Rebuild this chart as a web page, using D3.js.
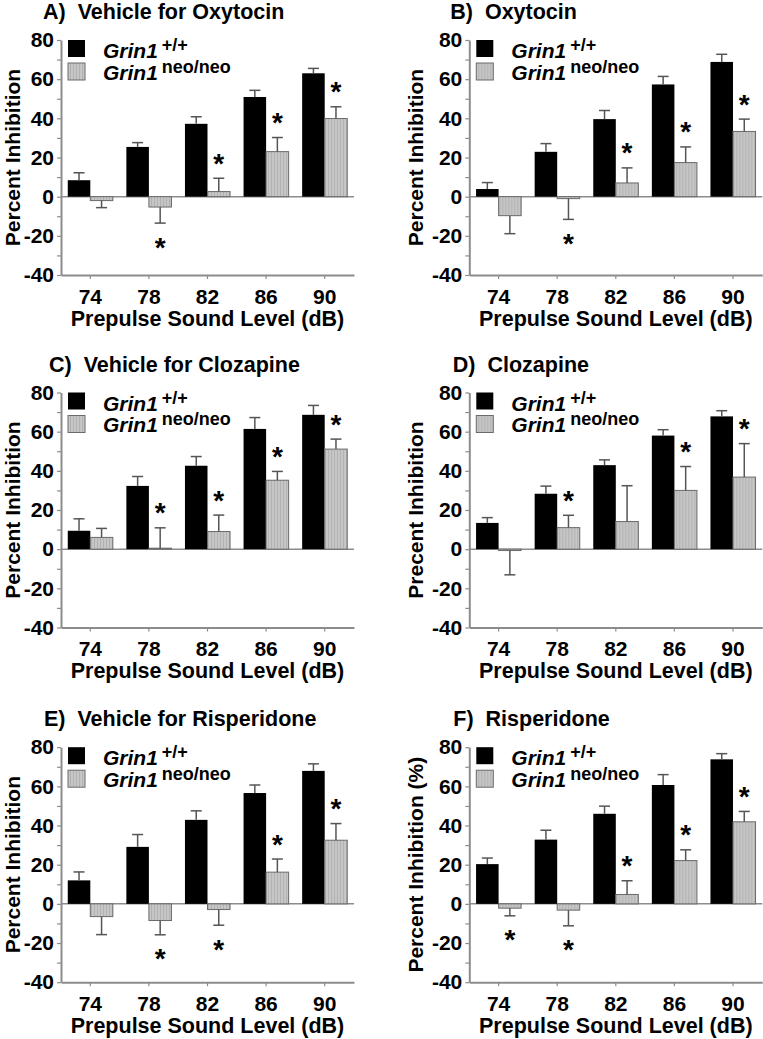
<!DOCTYPE html>
<html><head><meta charset="utf-8">
<script src="https://cdn.jsdelivr.net/npm/d3@7"></script>
<style>
body{margin:0;background:#fff}
text{font-family:"Liberation Sans",Arial,Helvetica,sans-serif;font-weight:bold;fill:#000}
</style>
</head><body><svg id="chart" width="763" height="1039"></svg>
<script>
// ---------- data ----------
const categories = ["74", "78", "82", "86", "90"];
const yTickValues = [-40, -20, 0, 20, 40, 60, 80];
const panelTitles = ["A)  Vehicle for Oxytocin", "B)  Oxytocin", "C)  Vehicle for Clozapine",
                     "D)  Clozapine", "E)  Vehicle for Risperidone", "F)  Risperidone"];
const yLabels = ["Percent Inhibition", "Percent Inhibition", "Percent Inhibition",
                 "Precent Inhibition", "Percent Inhibition", "Percent Inhibition (%)"];
const xLabel = "Prepulse Sound Level (dB)";
const seriesNames = ["Grin1", "Grin1"];
const seriesSups = ["+/+", "neo/neo"];

const wtA = [8.4, 25.4, 37.2, 50.9, 63.0],  wtErrA = [3.8, 2.2, 3.6, 3.4, 2.5];
const neoA = [-2.0, -5.3, 2.6, 23.0, 39.9], neoErrA = [3.6, 8.2, 6.8, 7.2, 6.0];
const starA = [0, 1, 1, 1, 1];

const wtB = [3.9, 22.9, 39.6, 57.3, 68.8],  wtErrB = [3.3, 4.2, 4.4, 4.1, 3.9];
const neoB = [-9.7, -1.0, 7.0, 17.4, 33.3], neoErrB = [9.2, 10.6, 7.7, 8.0, 6.3];
const starB = [0, 1, 1, 1, 1];

const wtC = [9.4, 32.3, 42.6, 61.4, 68.6],  wtErrC = [6.1, 4.8, 4.7, 5.8, 4.8];
const neoC = [6.0, 0.5, 9.0, 35.2, 51.1],   neoErrC = [4.6, 10.4, 8.4, 4.5, 5.1];
const starC = [0, 1, 1, 1, 1];

const wtD = [13.4, 28.3, 42.9, 58.0, 67.8], wtErrD = [2.7, 3.9, 2.7, 3.0, 2.9];
const neoD = [-0.7, 11.0, 14.1, 30.0, 36.8], neoErrD = [12.4, 6.3, 18.3, 12.2, 17.1];
const starD = [0, 1, 0, 1, 1];

const wtE = [12.0, 29.1, 42.9, 56.6, 67.9], wtErrE = [4.3, 6.3, 4.6, 4.1, 3.6];
const neoE = [-6.5, -8.5, -2.9, 16.2, 32.5], neoErrE = [9.2, 7.3, 8.0, 6.7, 8.5];
const starE = [0, 1, 1, 1, 1];

const wtF = [20.3, 32.8, 46.0, 60.7, 73.8], wtErrF = [3.1, 4.8, 3.9, 5.3, 2.9];
const neoF = [-2.2, -3.2, 4.8, 22.1, 41.9], neoErrF = [3.9, 8.0, 7.0, 5.5, 5.3];
const starF = [1, 1, 1, 1, 1];

const panels = [
  {wt: wtA, wtErr: wtErrA, neo: neoA, neoErr: neoErrA, star: starA},
  {wt: wtB, wtErr: wtErrB, neo: neoB, neoErr: neoErrB, star: starB},
  {wt: wtC, wtErr: wtErrC, neo: neoC, neoErr: neoErrC, star: starC},
  {wt: wtD, wtErr: wtErrD, neo: neoD, neoErr: neoErrD, star: starD},
  {wt: wtE, wtErr: wtErrE, neo: neoE, neoErr: neoErrE, star: starE},
  {wt: wtF, wtErr: wtErrF, neo: neoF, neoErr: neoErrF, star: starF}
];

// ---------- layout ----------
const colX = [61, 469.3];
const rowTop = [40, 392.5, 747.2];
const plotW = 293, plotH = 235;
const titleDx = [-18, -19, -12, -16.5, -17, -16];
const yLabelDx = [-41, -46];
const axisColor = "#8c8c8c";

const svg = d3.select("#chart");
const defs = svg.append("defs");
const pat = defs.append("pattern").attr("id", "hatch").attr("patternUnits", "userSpaceOnUse")
  .attr("width", 3).attr("height", 3);
pat.append("rect").attr("width", 3).attr("height", 3).attr("fill", "#c6c6c6");
pat.append("rect").attr("width", 1).attr("height", 3).attr("fill", "#b2b2b2");

const x = d3.scaleBand().domain(categories).range([0, plotW]).padding(0);
const xs = d3.scaleBand().domain(["wt", "neo"]).range([0, x.bandwidth()]).paddingInner(0).paddingOuter(0.3);
const y = d3.scaleLinear().domain([-40, 80]).range([plotH, 0]);

panels.forEach((p, i) => {
  const col = i % 2, row = Math.floor(i / 2);
  const g = svg.append("g").attr("transform", `translate(${colX[col]},${rowTop[row]})`);

  // title
  g.append("text").attr("x", titleDx[i]).attr("y", -21)
    .style("font-size", "21.5px").attr("xml:space", "preserve").text(panelTitles[i]);

  // y axis
  const ya = g.append("g").call(d3.axisLeft(y).tickValues(d3.range(-40, 81, 10))
      .tickSize(4).tickSizeOuter(0).tickPadding(3)
      .tickFormat(d => yTickValues.includes(d) ? d : ""));
  ya.select(".domain").attr("stroke", axisColor).attr("stroke-width", 2);
  ya.selectAll(".tick line").attr("stroke", axisColor).attr("stroke-width", 1.2);
  ya.selectAll(".tick text").style("font-size", "21px").attr("fill", "#000");
  ya.attr("font-family", null).attr("font-size", null);

  // x axis
  const xa = g.append("g").attr("transform", `translate(0,${plotH})`)
    .call(d3.axisBottom(x).tickSize(4).tickSizeOuter(0));
  xa.select(".domain").attr("stroke", axisColor).attr("stroke-width", 2);
  xa.selectAll(".tick line").attr("stroke", axisColor).attr("stroke-width", 1.2);
  xa.selectAll(".tick text").style("font-size", "21px").attr("y", 28.5).attr("dy", 0).attr("fill", "#000");
  xa.attr("font-family", null).attr("font-size", null);

  // zero line
  g.append("line").attr("x1", 0).attr("x2", plotW).attr("y1", y(0)).attr("y2", y(0))
    .attr("stroke", axisColor).attr("stroke-width", 1.5);

  // axis titles
  g.append("text").attr("x", plotW / 2).attr("y", plotH + 50.5).attr("text-anchor", "middle")
    .style("font-size", "21.5px").text(xLabel);
  g.append("text").attr("transform", `translate(${yLabelDx[col]},${plotH / 2}) rotate(-90)`)
    .attr("text-anchor", "middle").style("font-size", "21px").text(yLabels[i]);

  const rows = categories.map((c, k) => ({c, wt: p.wt[k], wtErr: p.wtErr[k], neo: p.neo[k], neoErr: p.neoErr[k], star: p.star[k]}));

  // bars
  g.selectAll(".wt").data(rows).join("rect")
    .attr("x", d => x(d.c) + xs("wt")).attr("width", xs.bandwidth())
    .attr("y", d => y(Math.max(0, d.wt))).attr("height", d => Math.abs(y(d.wt) - y(0)))
    .attr("fill", "#000");
  g.selectAll(".neo").data(rows).join("rect")
    .attr("x", d => x(d.c) + xs("neo")).attr("width", xs.bandwidth())
    .attr("y", d => y(Math.max(0, d.neo))).attr("height", d => Math.abs(y(d.neo) - y(0)))
    .attr("fill", "url(#hatch)").attr("stroke", "#6a6a6a").attr("stroke-width", 1);

  // error bars (one-sided)
  const errs = [];
  rows.forEach(d => {
    errs.push({cx: x(d.c) + xs("wt") + xs.bandwidth() / 2, m: d.wt, e: d.wtErr});
    errs.push({cx: x(d.c) + xs("neo") + xs.bandwidth() / 2, m: d.neo, e: d.neoErr});
  });
  const eg = g.append("g").attr("stroke", "#555").attr("stroke-width", 1.5);
  errs.forEach(d => {
    const end = d.m >= 0 ? d.m + d.e : d.m - d.e;
    eg.append("line").attr("x1", d.cx).attr("x2", d.cx).attr("y1", y(d.m)).attr("y2", y(end));
    eg.append("line").attr("x1", d.cx - 5.5).attr("x2", d.cx + 5.5).attr("y1", y(end)).attr("y2", y(end));
  });

  // significance stars
  rows.filter(d => d.star).forEach(d => {
    const cx = x(d.c) + xs("neo") + xs.bandwidth() / 2;
    const cy = d.neo >= 0 ? y(d.neo + d.neoErr) - 21.5 : y(d.neo - d.neoErr) + 17.5;
    g.append("text").attr("x", cx).attr("y", cy + 16).attr("text-anchor", "middle")
      .style("font-size", "28px").text("*");
  });

  // legend
  const lg = g.append("g");
  [0, 1].forEach(k => {
    lg.append("rect").attr("x", 7).attr("y", k * 23).attr("width", 17).attr("height", 17)
      .attr("fill", k === 0 ? "#000" : "url(#hatch)").attr("stroke", k === 0 ? "none" : "#6a6a6a");
    const t = lg.append("text").attr("x", 42).attr("y", 18 + k * 21.5).style("font-size", "21px");
    t.append("tspan").style("font-style", "italic").text(seriesNames[k]);
    t.append("tspan").attr("dx", 4).attr("dy", -7).style("font-size", "18px").text(seriesSups[k]);
  });
});
</script></body></html>
